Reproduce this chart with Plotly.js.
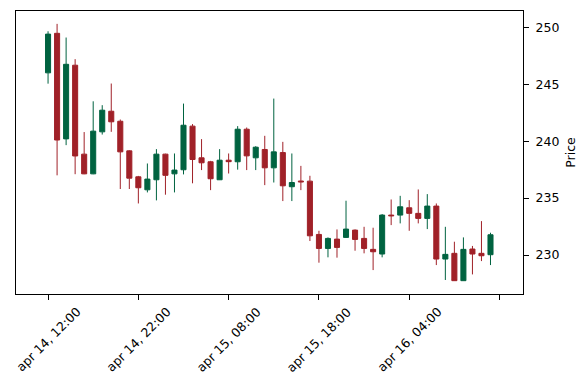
<!DOCTYPE html>
<html>
<head>
<meta charset="utf-8">
<script src="https://cdn.plot.ly/plotly-3.0.1.min.js"></script>
<style>html,body{margin:0;padding:0;background:#fff;}#chart{width:587px;height:390px;}</style>
</head>
<body>
<div id="chart"></div>
<script>
const openP  = [246.0, 249.47, 240.2, 246.67, 238.86, 237.13, 240.82, 242.63, 241.75, 239.15,
                236.87, 235.73, 236.61, 238.86, 237.13, 237.49, 241.32, 238.54, 238.19, 236.61,
                238.33, 238.19, 241.05, 238.54, 239.27, 237.66, 239.0, 236.0, 236.5, 236.49,
                231.81, 230.58, 231.4, 231.55, 232.19, 231.46, 230.5, 230.09, 233.51, 233.51,
                234.15, 233.66, 233.22, 234.3, 229.65, 230.15, 227.75, 230.53, 230.15, 230.03];
const highP  = [249.65, 250.3, 249.1, 247.2, 240.8, 243.5, 243.16, 245.06, 241.9, 239.2,
                236.95, 238.04, 239.3, 238.9, 238.92, 243.3, 241.5, 240.18, 238.27, 239.3,
                238.92, 241.32, 241.2, 239.56, 240.47, 243.74, 239.94, 238.92, 237.83, 236.96,
                232.13, 231.55, 232.25, 234.77, 232.25, 232.48, 232.4, 233.6, 234.88, 235.2,
                234.82, 235.76, 235.35, 234.53, 232.48, 231.17, 231.55, 230.8, 232.98, 231.96];
const lowP   = [245.05, 237.0, 239.65, 237.1, 237.1, 237.1, 240.58, 240.82, 235.8, 235.8,
                234.53, 235.5, 234.8, 235.3, 235.5, 237.08, 236.3, 237.46, 235.7, 236.6,
                237.16, 237.5, 237.46, 237.46, 236.14, 236.37, 234.74, 234.74, 235.7, 231.23,
                229.33, 229.8, 229.77, 231.5, 230.38, 230.15, 228.68, 229.8, 232.63, 232.78,
                232.13, 232.78, 232.28, 229.12, 227.81, 227.75, 227.75, 228.3, 229.47, 229.12];
const closeP = [249.4, 240.1, 246.75, 238.7, 237.13, 240.88, 242.72, 241.7, 239.06, 236.75,
                235.91, 236.67, 238.86, 237.0, 237.46, 241.4, 238.39, 238.1, 236.7, 238.33,
                238.2, 241.05, 238.71, 239.47, 237.66, 239.06, 236.08, 236.37, 236.43, 231.69,
                230.58, 231.46, 230.67, 232.28, 231.37, 230.58, 230.29, 233.51, 233.45, 234.24,
                233.66, 233.22, 234.3, 229.65, 230.06, 227.75, 230.5, 230.09, 229.94, 231.78];
const tickPositions = [0, 10, 20, 30, 40, 50];
const tickLabels = ["apr 14, 12:00", "apr 14, 22:00", "apr 15, 08:00", "apr 15, 18:00", "apr 16, 04:00", ""];

const xIdx = openP.map((_, i) => i);
const upColor = '#006340', downColor = '#a02128';

const trace = {
  type: 'candlestick',
  x: xIdx, open: openP, high: highP, low: lowP, close: closeP,
  increasing: {line: {color: upColor, width: 1}, fillcolor: upColor},
  decreasing: {line: {color: downColor, width: 1}, fillcolor: downColor},
  whiskerwidth: 0,
  hoverinfo: 'none'
};

const fontF = 'DejaVu Sans, sans-serif';
const tickFont = {family: fontF, size: 12.5, color: '#000'};

// matplotlib-style rotated tick labels, centred on their tick
const tickAnnotations = tickPositions
  .map((p, i) => ({pos: p, text: tickLabels[i]}))
  .filter(t => t.text !== '')
  .map(t => ({
    x: t.pos, xref: 'x', y: 0, yref: 'paper',
    text: t.text, textangle: -45, showarrow: false,
    xanchor: 'center', yanchor: 'top', yshift: -7,
    font: tickFont
  }));

const layout = {
  width: 587, height: 390,
  margin: {l: 16, r: 64, t: 11, b: 96},
  paper_bgcolor: '#fff', plot_bgcolor: '#fff',
  showlegend: false,
  boxgap: 0.2,
  font: {family: fontF, size: 12.5, color: '#000'},
  annotations: tickAnnotations,
  xaxis: {
    range: [-3.55, 52.6],
    tickmode: 'array', tickvals: tickPositions, ticktext: tickLabels,
    showticklabels: false,
    ticks: 'outside', ticklen: 5, tickwidth: 1, tickcolor: '#000',
    showgrid: false, zeroline: false,
    showline: true, mirror: true, linecolor: '#000', linewidth: 1,
    rangeslider: {visible: false}
  },
  yaxis: {
    side: 'right',
    range: [226.58, 251.43],
    tickvals: [230, 235, 240, 245, 250],
    ticks: 'outside', ticklen: 5, tickwidth: 1, tickcolor: '#000',
    ticklabelstandoff: 4,
    showgrid: false, zeroline: false,
    showline: true, mirror: true, linecolor: '#000', linewidth: 1,
    tickfont: tickFont,
    title: {text: 'Price', font: tickFont, standoff: 7}
  }
};

Plotly.newPlot('chart', [trace], layout, {staticPlot: true, displayModeBar: false});
</script>
</body>
</html>
